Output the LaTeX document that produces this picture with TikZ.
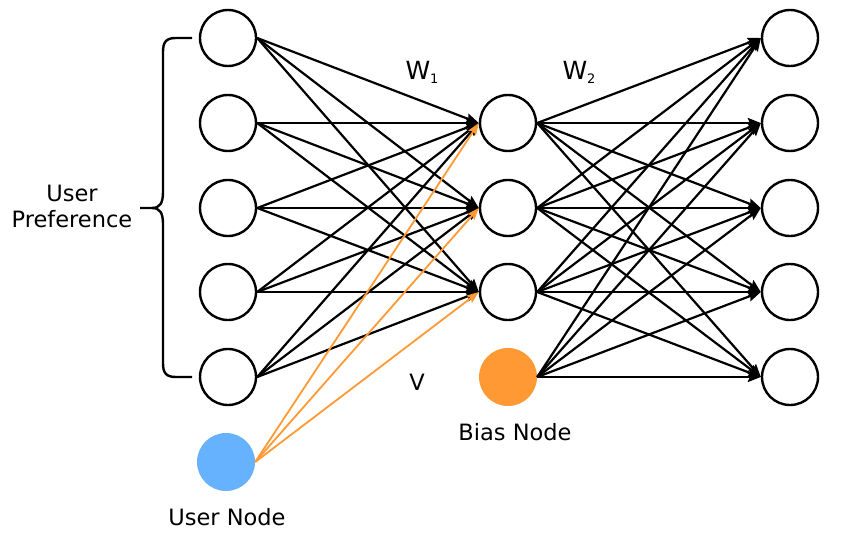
\documentclass[tikz,border=0pt]{standalone}
\usepackage{fontspec}
\setmainfont{DejaVu Sans}
\usetikzlibrary{arrows.meta}
\definecolor{biasorange}{RGB}{255,153,51}
\definecolor{userblue}{RGB}{102,178,255}
\newcommand{\wsub}[1]{W\raisebox{-4pt}{\fontsize{13}{13}\selectfont #1}}
\tikzset{
  unit/.style={circle, draw, line width=2.4pt, minimum size=56pt, inner sep=0pt},
  wire/.style={line width=2.2pt, -{Stealth[length=13pt,width=10pt,inset=2pt]}},
  userwire/.style={biasorange, line width=1.8pt, -{Stealth[length=12pt,width=9pt,inset=2pt]}},
  lbl/.style={font=\fontsize{22.5}{26}\selectfont, align=center, inner sep=0pt}
}
\begin{document}
\begin{tikzpicture}[x=1pt,y=-1pt]
    \useasboundingbox (0,0) rectangle (865,543);
    \def\inx{228}; \def\hidx{508}; \def\outx{790};
    \def\ya{38}; \def\yb{123}; \def\yc{208}; \def\yd{292}; \def\ye{377};

    \node[unit] (I1) at (\inx,\ya) {}; \node[unit] (I2) at (\inx,\yb) {};
    \node[unit] (I3) at (\inx,\yc) {}; \node[unit] (I4) at (\inx,\yd) {};
    \node[unit] (I5) at (\inx,\ye) {};
    \node[unit] (H1) at (\hidx,\yb) {}; \node[unit] (H2) at (\hidx,\yc) {};
    \node[unit] (H3) at (\hidx,\yd) {};
    \node[unit] (O1) at (\outx,\ya) {}; \node[unit] (O2) at (\outx,\yb) {};
    \node[unit] (O3) at (\outx,\yc) {}; \node[unit] (O4) at (\outx,\yd) {};
    \node[unit] (O5) at (\outx,\ye) {};
    \node[circle, fill=userblue, minimum size=58pt, inner sep=0pt] (U) at (226,462) {};
    \node[circle, fill=biasorange, minimum size=58pt, inner sep=0pt] (B) at (508,377) {};

    % input -> hidden (W1)
    \draw[wire] (I1.east) -- (H1.west); \draw[wire] (I1.east) -- (H2.west); \draw[wire] (I1.east) -- (H3.west);
    \draw[wire] (I2.east) -- (H1.west); \draw[wire] (I2.east) -- (H2.west); \draw[wire] (I2.east) -- (H3.west);
    \draw[wire] (I3.east) -- (H1.west); \draw[wire] (I3.east) -- (H2.west); \draw[wire] (I3.east) -- (H3.west);
    \draw[wire] (I4.east) -- (H1.west); \draw[wire] (I4.east) -- (H2.west); \draw[wire] (I4.east) -- (H3.west);
    \draw[wire] (I5.east) -- (H1.west); \draw[wire] (I5.east) -- (H2.west); \draw[wire] (I5.east) -- (H3.west);

    % user node -> hidden (V)
    \draw[userwire] (U.east) -- (H1.west); \draw[userwire] (U.east) -- (H2.west);
    \draw[userwire] (U.east) -- (H3.west);

    % hidden + bias -> output (W2)
    \draw[wire] (H1.east) -- (O1.west); \draw[wire] (H1.east) -- (O2.west); \draw[wire] (H1.east) -- (O3.west);
    \draw[wire] (H1.east) -- (O4.west); \draw[wire] (H1.east) -- (O5.west);
    \draw[wire] (H2.east) -- (O1.west); \draw[wire] (H2.east) -- (O2.west); \draw[wire] (H2.east) -- (O3.west);
    \draw[wire] (H2.east) -- (O4.west); \draw[wire] (H2.east) -- (O5.west);
    \draw[wire] (H3.east) -- (O1.west); \draw[wire] (H3.east) -- (O2.west); \draw[wire] (H3.east) -- (O3.west);
    \draw[wire] (H3.east) -- (O4.west); \draw[wire] (H3.east) -- (O5.west);
    \draw[wire] (B.east) -- (O1.west); \draw[wire] (B.east) -- (O2.west); \draw[wire] (B.east) -- (O3.west);
    \draw[wire] (B.east) -- (O4.west); \draw[wire] (B.east) -- (O5.west);

    % brace
    \draw[line width=2.4pt] (192,\ya) -- (176,\ya) .. controls (166,\ya) and (163,42) .. (163,52)
      -- (163,192) .. controls (163,203) and (160,208) .. (152,208) -- (140,208);
    \draw[line width=2.4pt] (192,\ye) -- (176,\ye) .. controls (166,\ye) and (163,373) .. (163,363)
      -- (163,224) .. controls (163,213) and (160,208) .. (152,208);

    \node[lbl] (pref) at (72,206) {User\\Preference};
    \node[lbl] (ulbl) at (227,517) {User Node};
    \node[lbl] (blbl) at (515,432) {Bias Node};
    \node[lbl] (vlbl) at (417,382) {V};
    \node[lbl, font=\fontsize{25}{28}\selectfont] (w1) at (422,72) {\wsub{1}};
    \node[lbl, font=\fontsize{25}{28}\selectfont] (w2) at (579,72) {\wsub{2}};
\end{tikzpicture}
\end{document}
